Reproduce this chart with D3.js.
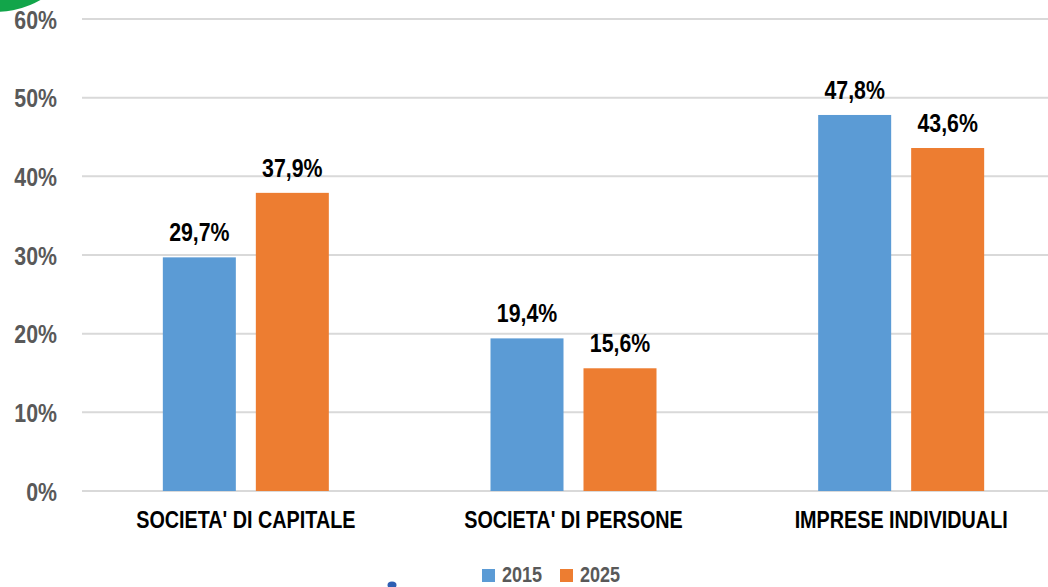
<!DOCTYPE html>
<html>
<head>
<meta charset="utf-8">
<script src="https://cdn.jsdelivr.net/npm/d3@7"></script>
<style>
html,body{margin:0;padding:0;background:#fff;}
svg{display:block;font-family:"Liberation Sans Narrow","Liberation Sans",Arial,sans-serif;font-weight:bold;}
</style>
</head>
<body>
<svg id="chart" width="1048" height="587"></svg>
<script>
const categories = ["SOCIETA' DI CAPITALE", "SOCIETA' DI PERSONE", "IMPRESE INDIVIDUALI"];
const series = ["2015", "2025"];
const values2015 = [29.7, 19.4, 47.8];
const values2025 = [37.9, 15.6, 43.6];
const yTicks = [0, 10, 20, 30, 40, 50, 60];
const colors = ["#5b9bd5", "#ed7d31"];

const svg = d3.select("#chart");
const W = 1048, H = 587;
const mLeft = 82, mRight = 1065, mTop = 19, mBottom = 491;
const narrow = 0.82; // emulate a condensed face

// decorative logo fragments
svg.append("circle").attr("cx", -5).attr("cy", -80).attr("r", 92).attr("fill", "#12a54a");
svg.append("ellipse").attr("cx", 392).attr("cy", 585).attr("rx", 4.5).attr("ry", 3.5).attr("fill", "#2f5fb3");

const y = d3.scaleLinear().domain([0, 60]).range([mBottom, mTop]);
const x0 = d3.scaleBand().domain(categories).range([mLeft, mRight]).padding(0);
const groupW = 166;
const x1 = d3.scaleBand().domain(series).range([0, groupW]).paddingInner(0.215).paddingOuter(0);

// grid
const grid = svg.append("g");
grid.selectAll("line").data(yTicks).join("line")
  .attr("x1", mLeft).attr("x2", W)
  .attr("y1", d => y(d)).attr("y2", d => y(d))
  .attr("stroke", "#d9d9d9").attr("stroke-width", 2);

// y axis labels
const yAxis = d3.axisLeft(y).tickValues(yTicks).tickSize(0).tickPadding(0).tickFormat(d => d + "%");
const ya = svg.append("g").attr("transform", `translate(57,0)`).call(yAxis);
ya.select(".domain").remove();
ya.attr("font-family", null).attr("font-size", null);
ya.selectAll("text").attr("fill", "#595959").attr("font-size", 26).attr("dy", "0.35em")
  .attr("transform", `scale(${narrow},1)`);

const data = categories.map((c, i) => ({cat: c, vals: [values2015[i], values2025[i]]}));

const groups = svg.append("g").selectAll("g").data(data).join("g")
  .attr("transform", d => `translate(${x0(d.cat) + x0.bandwidth() / 2 - groupW / 2},0)`);

const items = d => d.vals.map((v, j) => ({s: series[j], v, j}));

groups.selectAll("rect").data(items).join("rect")
  .attr("x", d => x1(d.s)).attr("width", x1.bandwidth())
  .attr("y", d => y(d.v)).attr("height", d => y(0) - y(d.v))
  .attr("fill", d => colors[d.j]);

groups.selectAll("text.val").data(items).join("text")
  .attr("class", "val")
  .attr("transform", d => `translate(${x1(d.s) + x1.bandwidth() / 2},${y(d.v) - 16}) scale(${narrow},1)`)
  .attr("text-anchor", "middle").attr("font-size", 26).attr("fill", "#000")
  .text(d => d.v.toFixed(1).replace(".", ",") + "%");

// x axis category labels
const xAxis = d3.axisBottom(x0).tickSize(0).tickPadding(0);
const xa = svg.append("g").attr("transform", `translate(0,${mBottom})`).call(xAxis);
xa.select(".domain").remove();
xa.attr("font-family", null).attr("font-size", null);
xa.selectAll("text").attr("fill", "#000").attr("font-size", 23).attr("dy", null).attr("y", 37)
  .attr("transform", "scale(0.86,1)");

// legend
const legendItems = [{s: "2015", x: 482}, {s: "2025", x: 560}];
const lg = svg.append("g").selectAll("g").data(legendItems).join("g")
  .attr("transform", d => `translate(${d.x},569)`);
lg.append("rect").attr("width", 13).attr("height", 13).attr("fill", (d, i) => colors[i]);
lg.append("text").attr("transform", `translate(20,13) scale(${narrow},1)`)
  .attr("font-size", 22).attr("fill", "#595959").text(d => d.s);
</script>
</body>
</html>
